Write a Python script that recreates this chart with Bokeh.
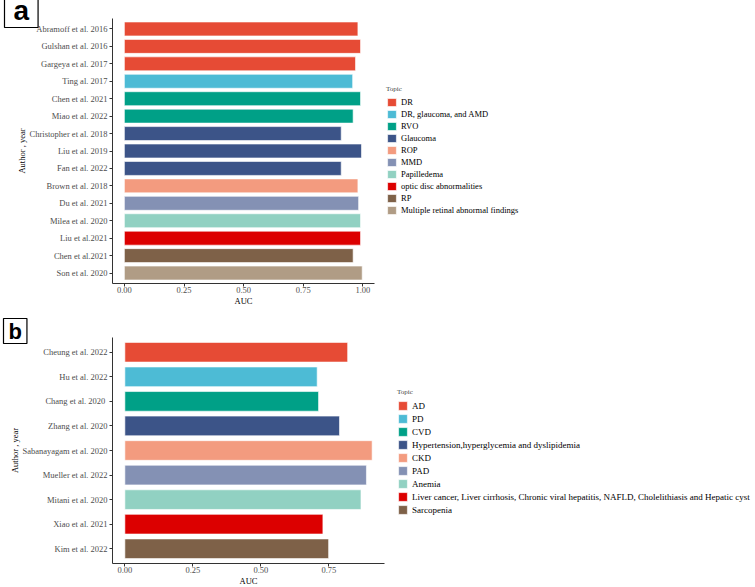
from bokeh.plotting import figure
from bokeh.models import (Range1d, FactorRange, Legend, LegendItem, Title,
                          FixedTicker, NumeralTickFormatter, ColumnDataSource)
from bokeh.layouts import column
from bokeh.embed import file_html
from bokeh.resources import INLINE

# ---------------- Panel a data ----------------
a_authors = ["Abramoff et al. 2016", "Gulshan et al. 2016", "Gargeya et al. 2017",
             "Ting al. 2017", "Chen et al. 2021", "Miao et al. 2022",
             "Christopher et al. 2018", "Liu et al. 2019", "Fan et al. 2022",
             "Brown et al. 2018", "Du et al. 2021", "Milea et al. 2020",
             "Liu et al.2021", "Chen et al.2021", "Son et al. 2020"]
a_auc = [0.979, 0.990, 0.969, 0.957, 0.990, 0.959, 0.909, 0.994, 0.909,
         0.979, 0.982, 0.990, 0.990, 0.959, 0.997]
a_topic = ["DR", "DR", "DR", "DR, glaucoma, and AMD", "RVO", "RVO",
           "Glaucoma", "Glaucoma", "Glaucoma", "ROP", "MMD", "Papilledema",
           "optic disc abnormalities", "RP", "Multiple retinal abnormal findings"]
a_topics = ["DR", "DR, glaucoma, and AMD", "RVO", "Glaucoma", "ROP", "MMD",
            "Papilledema", "optic disc abnormalities", "RP",
            "Multiple retinal abnormal findings"]
a_colors = ["#E64B35", "#4DBBD5", "#00A087", "#3C5488", "#F39B7F", "#8491B4",
            "#91D1C2", "#DC0000", "#7E6148", "#B09C85"]
a_ticks = [0.0, 0.25, 0.5, 0.75, 1.0]

# ---------------- Panel b data ----------------
b_authors = ["Cheung et al. 2022", "Hu et al. 2022", "Chang et al.  2020",
             "Zhang et al. 2020", "Sabanayagam et al. 2020", "Mueller et al. 2022",
             "Mitani et al. 2020", "Xiao et al. 2021", "Kim et al. 2022"]
b_auc = [0.819, 0.707, 0.712, 0.789, 0.909, 0.888, 0.868, 0.728, 0.749]
b_topic = ["AD", "PD", "CVD", "Hypertension,hyperglycemia and dyslipidemia",
           "CKD", "PAD", "Anemia",
           "Liver cancer, Liver cirrhosis, Chronic viral hepatitis, NAFLD, Cholelithiasis and Hepatic cyst",
           "Sarcopenia"]
b_topics = list(b_topic)
b_colors = ["#E64B35", "#4DBBD5", "#00A087", "#3C5488", "#F39B7F", "#8491B4",
            "#91D1C2", "#DC0000", "#7E6148"]
b_ticks = [0.0, 0.25, 0.5, 0.75]

SERIF = "Liberation Serif"
WIDTH = 755


def make_panel(authors, auc, topic, topics, colors, ticks, height, b_left,
               plot_w, b_top, b_bottom, leg_loc, leg_font, glyph_h, spacing,
               tag, tag_size, tag_offset, tag_standoff, tag_pad, auc_offset):
    xmax = max(auc)
    pad = 0.05 * xmax
    span = xmax + 2 * pad
    frame_w = WIDTH - b_left
    # the frame runs to the right edge so that the legend can sit inside it;
    # the axis itself is bounded to the data span, as in the original
    x_end = -pad + span * frame_w / plot_w
    p = figure(width=WIDTH, height=height,
               y_range=FactorRange(factors=authors[::-1], range_padding=0.1,
                                   range_padding_units="absolute"),
               x_range=Range1d(-pad, x_end),
               output_backend="svg", toolbar_location=None,
               min_border_left=b_left, min_border_right=0,
               min_border_top=b_top, min_border_bottom=b_bottom)
    p.outline_line_color = None
    p.xgrid.grid_line_color = None
    p.ygrid.grid_line_color = None
    p.background_fill_color = "white"

    items = []
    for t, c in zip(topics, colors):
        idx = [i for i, tt in enumerate(topic) if tt == t]
        src = ColumnDataSource(dict(y=[authors[i] for i in idx],
                                    x=[auc[i] for i in idx]))
        r = p.hbar(y="y", left=0, right="x", height=0.8, source=src,
                   fill_color=c, line_color="white", line_width=0.6)
        items.append(LegendItem(label=t, renderers=[r]))

    for ax in (p.xaxis[0], p.yaxis[0]):
        ax.axis_line_color = "#333333"
        ax.axis_line_width = 1
        ax.major_tick_line_color = "#333333"
        ax.major_tick_out = 3
        ax.major_tick_in = 0
        ax.minor_tick_line_color = None
        ax.major_label_text_font = SERIF
        ax.major_label_text_font_size = "8.5px"
        ax.major_label_text_color = "#4D4D4D"
        ax.axis_label_text_font = SERIF
        ax.axis_label_text_font_size = "8.5px"
        ax.axis_label_text_font_style = "normal"
        ax.axis_label_text_color = "black"

    p.xaxis.ticker = FixedTicker(ticks=ticks)
    p.xaxis.formatter = NumeralTickFormatter(format="0.00")
    p.xaxis.bounds = (-pad, xmax + pad)
    p.xaxis.major_label_standoff = 0
    p.yaxis.axis_label = "Author , year"
    p.yaxis.major_label_standoff = 2
    p.yaxis.axis_label_standoff = 0

    # x-axis title, centred under the bounded axis
    auc_title = Title(text="AUC", align="left", vertical_align="top",
                      offset=auc_offset, standoff=0, text_font=SERIF,
                      text_font_size="8.5px", text_font_style="normal",
                      text_color="black")
    p.add_layout(auc_title, "below")

    legend = Legend(items=items, location=leg_loc, title="Topic",
                    title_text_font=SERIF, title_text_font_size="7px",
                    title_text_font_style="normal", title_standoff=4,
                    label_text_font=SERIF, label_text_font_size=leg_font,
                    label_text_color="black",
                    glyph_width=11, glyph_height=glyph_h, label_height=glyph_h,
                    label_standoff=4, spacing=spacing, padding=0, margin=0,
                    border_line_color=None, background_fill_alpha=0)
    p.add_layout(legend)

    # boxed panel letter, drawn by the figure's title
    t = p.title
    t.text = tag
    t.align = "left"
    t.vertical_align = "bottom"
    t.offset = tag_offset
    t.standoff = tag_standoff
    t.text_font = "Liberation Sans"
    t.text_font_style = "bold"
    t.text_font_size = tag_size
    t.text_color = "black"
    t.border_line_color = "black"
    t.border_line_width = 1.2
    t.padding = tag_pad
    return p


# panel a: plotted frame x 111..373, y 18..283
pa = make_panel(a_authors, a_auc, a_topic, a_topics, a_colors, a_ticks,
                height=310, b_left=111, plot_w=262, b_top=18, b_bottom=27,
                leg_loc=(274, 68), leg_font="8.5px", glyph_h=10, spacing=2,
                tag="a", tag_size="28px", tag_offset=-108, tag_standoff=-18,
                tag_pad=dict(left=9, right=9, top=0, bottom=2),
                auc_offset=122)

# panel b: plotted frame x 112..384, y 337..563
pb = make_panel(b_authors, b_auc, b_topic, b_topics, b_colors, b_ticks,
                height=277, b_left=112, plot_w=272, b_top=27, b_bottom=24,
                leg_loc=(285, 48), leg_font="9px", glyph_h=11, spacing=2,
                tag="b", tag_size="22px", tag_offset=-109, tag_standoff=-12,
                tag_pad=dict(left=5, right=5, top=0, bottom=0),
                auc_offset=127)

layout = column(pa, pb, spacing=0)
open("out.html", "w").write(file_html(layout, INLINE))
